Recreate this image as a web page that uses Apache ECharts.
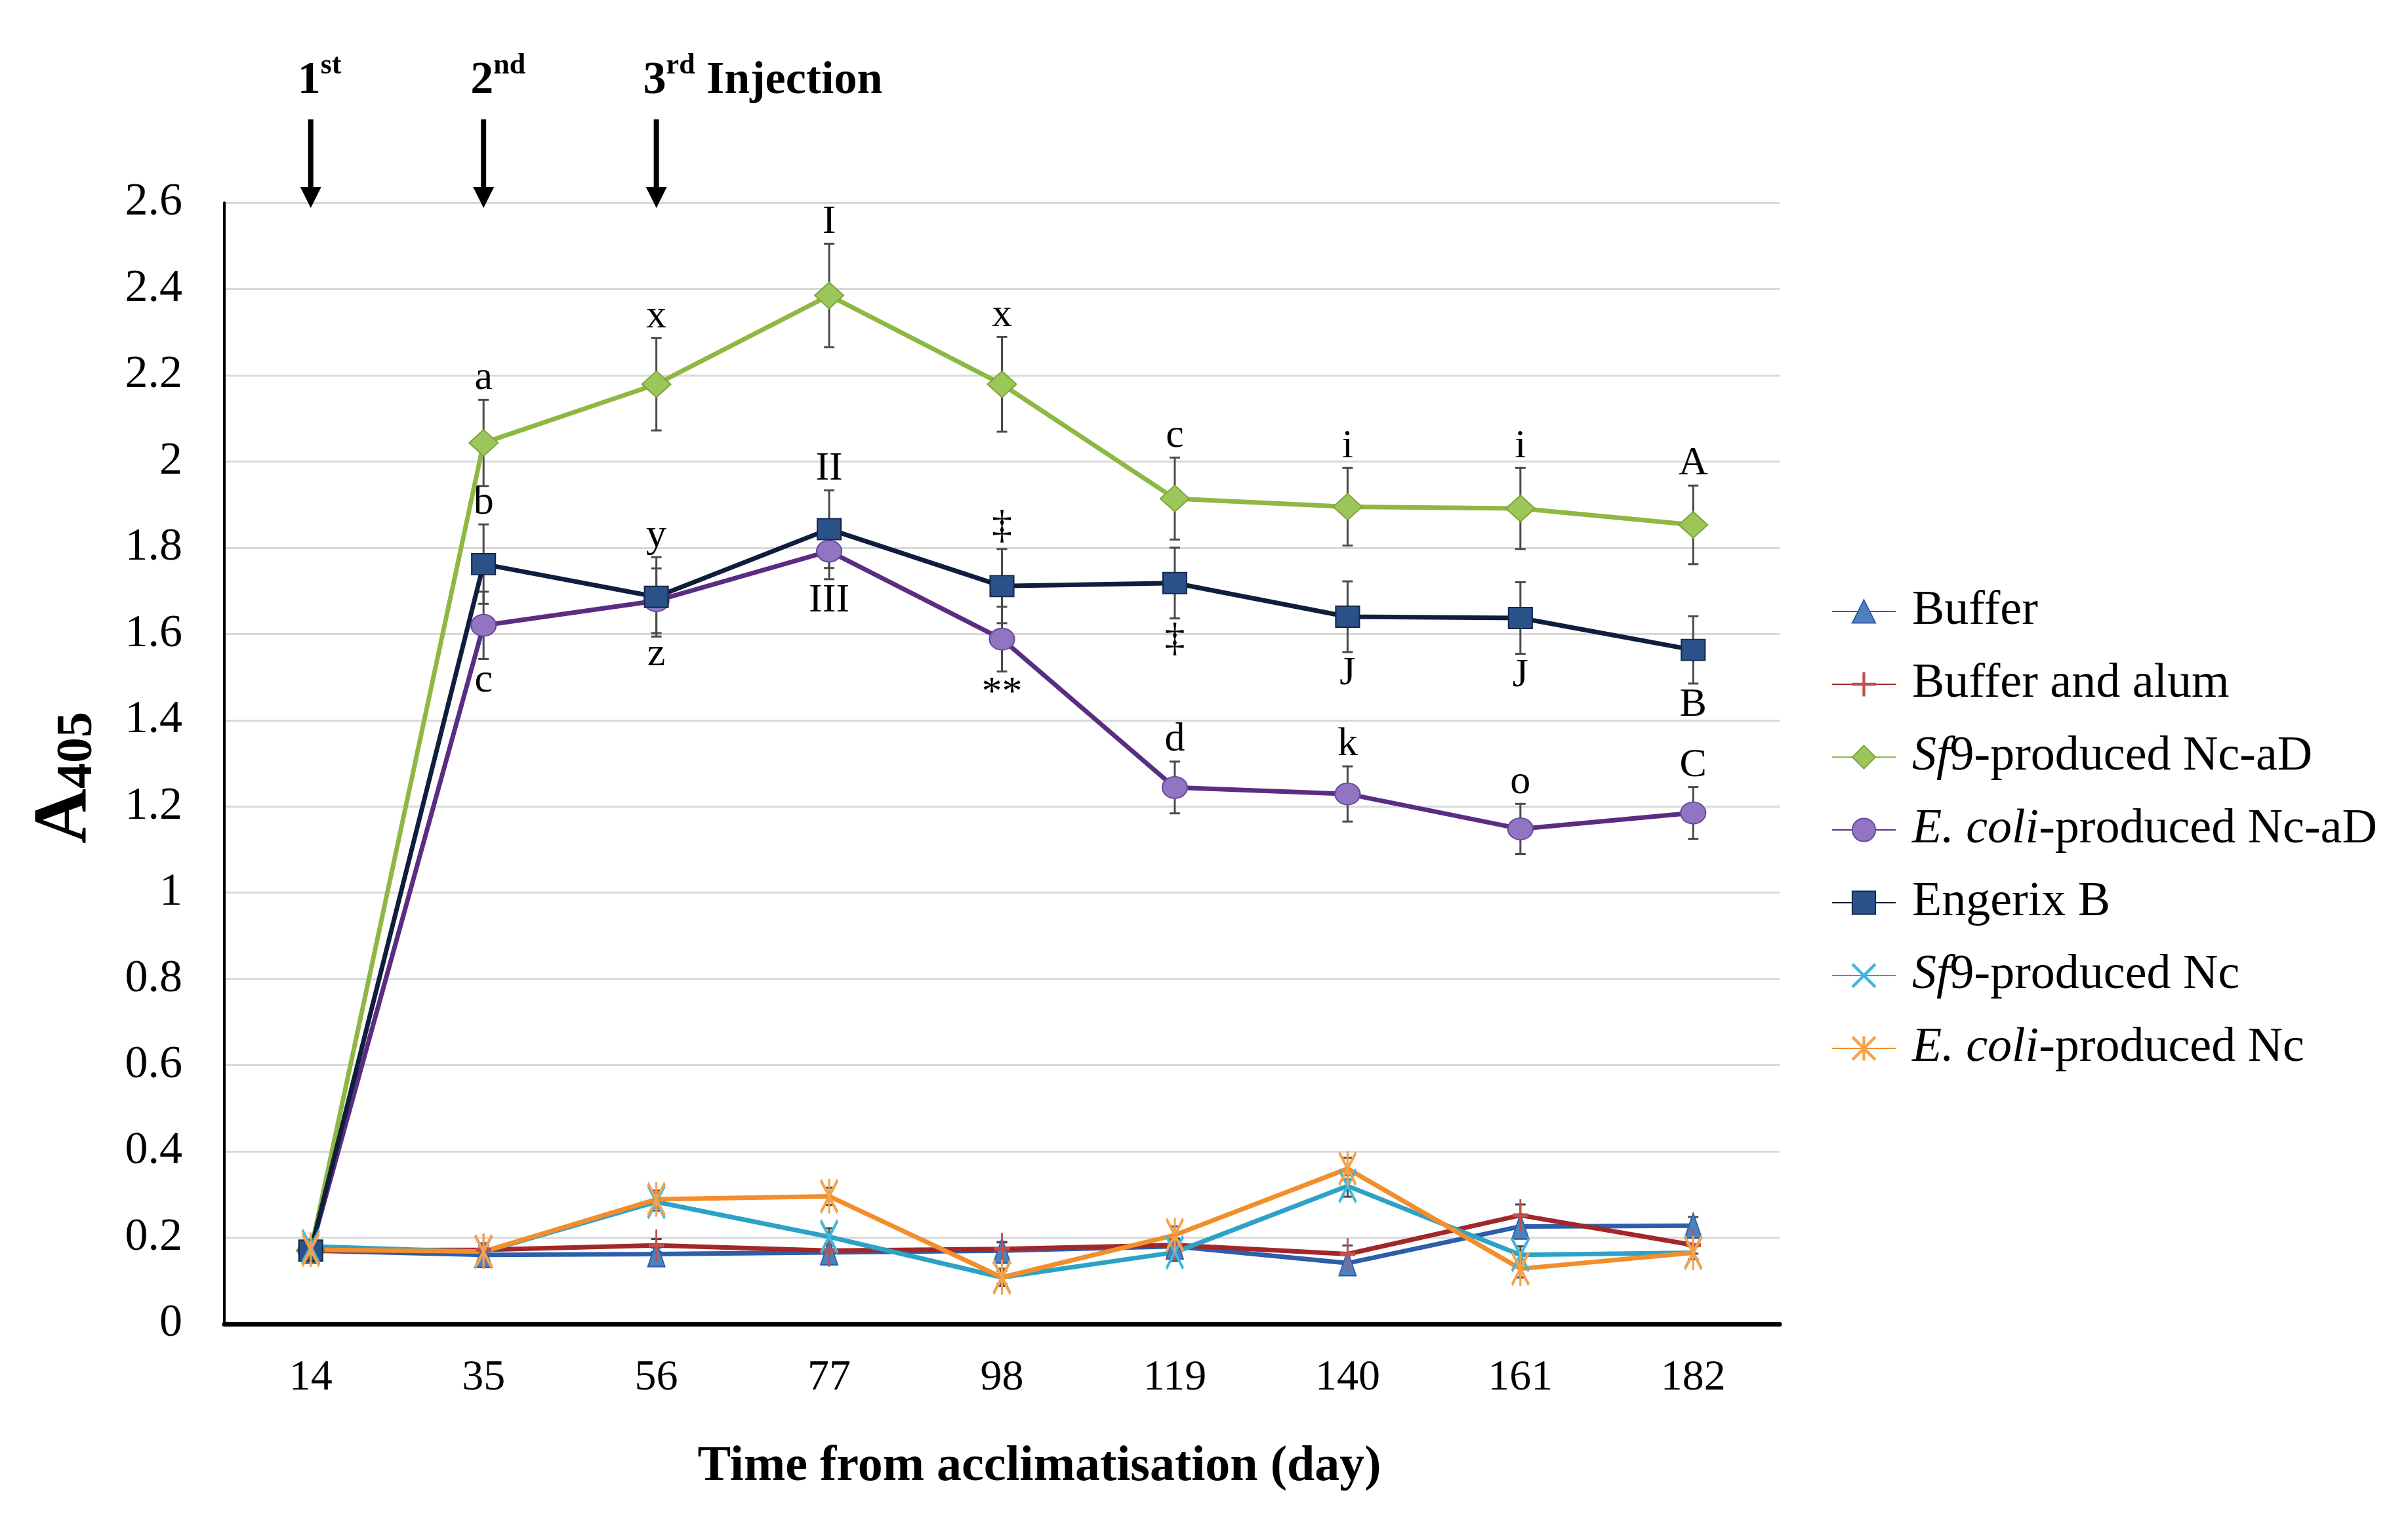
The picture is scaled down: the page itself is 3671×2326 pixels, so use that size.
<!DOCTYPE html>
<html><head><meta charset="utf-8">
<script src="https://cdn.jsdelivr.net/npm/echarts@6/dist/echarts.min.js"></script>
<style>html,body{margin:0;padding:0;background:#fff}#c{width:3671px;height:2326px}</style>
</head><body><div id="c"></div>
<script>
// ---- data ----
const xLabels = ['14','35','56','77','98','119','140','161','182'];
const yTicksMax = 2.6;
const yTickStep = 0.2;

const bufferVals     = [0.170, 0.160, 0.162, 0.166, 0.170, 0.180, 0.141, 0.226, 0.228];
const bufferAlumVals = [0.170, 0.172, 0.182, 0.170, 0.174, 0.183, 0.162, 0.252, 0.183];
const sf9NcaDVals    = [0.170, 2.043, 2.179, 2.385, 2.179, 1.914, 1.895, 1.891, 1.853];
const ecoliNcaDVals  = [0.170, 1.620, 1.677, 1.792, 1.588, 1.244, 1.229, 1.148, 1.185];
const engerixVals    = [0.170, 1.762, 1.686, 1.843, 1.711, 1.718, 1.640, 1.637, 1.563];
const sf9NcVals      = [0.180, 0.167, 0.283, 0.202, 0.108, 0.166, 0.320, 0.160, 0.165];
const ecoliNcVals    = [0.172, 0.168, 0.289, 0.296, 0.108, 0.206, 0.360, 0.128, 0.165];

const bufferErr      = [0.010, 0.015, 0.015, 0.015, 0.020, 0.015, 0.020, 0.025, 0.020];
const bufferAlumErr  = [0.010, 0.015, 0.015, 0.015, 0.015, 0.015, 0.020, 0.025, 0.020];
const sf9NcaDErr     = [0.010, 0.100, 0.107, 0.120, 0.110, 0.095, 0.090, 0.094, 0.091];
const ecoliNcaDErr   = [0.010, 0.078, 0.075, 0.065, 0.075, 0.060, 0.064, 0.058, 0.060];
const engerixErr     = [0.010, 0.092, 0.092, 0.090, 0.086, 0.082, 0.082, 0.083, 0.078];
const sf9NcErr       = [0.010, 0.015, 0.020, 0.020, 0.015, 0.020, 0.025, 0.020, 0.015];
const ecoliNcErr     = [0.010, 0.015, 0.020, 0.020, 0.020, 0.020, 0.025, 0.020, 0.015];

const sf9NcaDTop     = ['', 'a', 'x', 'I', 'x', 'c', 'i', 'i', 'A'];
const engerixTop     = ['', 'b', 'y', 'II', '‡', '', '', '', ''];
const engerixBottom  = ['', '', '', '', '', '‡', 'J', 'J', 'B'];
const ecoliNcaDBottom= ['', 'c', 'z', 'III', '**', '', '', '', ''];
const ecoliNcaDTop   = ['', '', '', '', '', 'd', 'k', 'o', 'C'];

const injectionDays  = ['14', '35', '56'];
const injectionTexts = ['{b|1}{s|st}', '{b|2}{s|nd}', '{b|3}{s|rd}{b| Injection}'];

const seriesNames = ['Buffer', 'Buffer and alum', 'Sf9-produced Nc-aD', 'E. coli-produced Nc-aD',
                     'Engerix B', 'Sf9-produced Nc', 'E. coli-produced Nc'];

// ---- styling ----
const FONT = "'Liberation Serif', 'Times New Roman', serif";
const PLUS = 'path://M-1.3,-20L1.3,-20L1.3,20L-1.3,20Z M-20,-1.3L20,-1.3L20,1.3L-20,1.3Z';
const XMARK = 'path://M-20,-18L-18,-20L20,18L18,20Z M18,-20L20,-18L-18,20L-20,18Z';
const STAR = 'path://M-20,-18L-18,-20L20,18L18,20Z M18,-20L20,-18L-18,20L-20,18Z M-1.3,-20L1.3,-20L1.3,20L-1.3,20Z';

function lineSeries(name, data, symbol, size, lineColor, fill, border) {
  return {
    type: 'line', name, data, symbol, symbolSize: size,
    lineStyle: { width: 7, color: lineColor },
    itemStyle: { color: fill, borderColor: border, borderWidth: 2 },
    z: 3, emphasis: { disabled: true }, silent: true
  };
}

function errSeries(vals, errs, top, bottom) {
  return {
    type: 'custom', silent: true, z: 2, clip: false,
    data: vals.map((v, i) => [i, v, errs[i]]),
    encode: { x: 0, y: 1 },
    renderItem(params, api) {
      const i = api.value(0), v = api.value(1), e = api.value(2);
      const t = api.coord([i, v + e]), b = api.coord([i, v - e]);
      const cw = 8, st = { stroke: '#4a4a4a', lineWidth: 3 };
      const children = [
        { type: 'line', shape: { x1: t[0], y1: t[1], x2: b[0], y2: b[1] }, style: st },
        { type: 'line', shape: { x1: t[0] - cw, y1: t[1], x2: t[0] + cw, y2: t[1] }, style: st },
        { type: 'line', shape: { x1: b[0] - cw, y1: b[1], x2: b[0] + cw, y2: b[1] }, style: st }
      ];
      const k = params.dataIndex;
      if (top && top[k]) children.push({ type: 'text', style: {
        text: top[k], x: t[0], y: t[1] - 2, align: 'center', verticalAlign: 'bottom',
        font: '62px ' + FONT, fill: '#000' } });
      if (bottom && bottom[k]) children.push({ type: 'text', style: {
        text: bottom[k], x: b[0], y: b[1] + 2, align: 'center', verticalAlign: 'top',
        font: '62px ' + FONT, fill: '#000' } });
      return { type: 'group', children };
    }
  };
}

const injectionSeries = {
  type: 'custom', silent: true, z: 5, clip: false,
  data: injectionDays.map(d => [xLabels.indexOf(d), yTicksMax]),
  encode: { x: 0, y: 1 },
  renderItem(params, api) {
    const p = api.coord([api.value(0), api.value(1)]);
    const k = params.dataIndex;
    const tip = p[1] + 8, topY = p[1] - 127, headH = 32, headW = 16;
    return { type: 'group', children: [
      { type: 'rect', shape: { x: p[0] - 4, y: topY, width: 8, height: tip - headH - topY + 2 }, style: { fill: '#000' } },
      { type: 'polygon', shape: { points: [[p[0] - headW, tip - headH], [p[0] + headW, tip - headH], [p[0], tip]] }, style: { fill: '#000' } },
      { type: 'text', style: {
          text: injectionTexts[k], x: p[0] - 20, y: p[1] - 150, align: 'left', verticalAlign: 'bottom',
          rich: {
            b: { fontSize: 70, fontWeight: 'bold', fontFamily: FONT, fill: '#000', lineHeight: 80, verticalAlign: 'bottom' },
            s: { fontSize: 44, fontWeight: 'bold', fontFamily: FONT, fill: '#000', lineHeight: 50, verticalAlign: 'top' }
          } } }
    ] };
  }
};

const chart = echarts.init(document.getElementById('c'));
chart.setOption({
  animation: false,
  backgroundColor: '#fff',
  grid: { left: 342, right: 958, top: 309, bottom: 308, outerBoundsMode: 'none' },
  legend: {
    orient: 'vertical', left: 2787, top: 890,
    itemWidth: 97, itemHeight: 44, itemGap: 37, selectedMode: false,
    data: seriesNames,
    formatter: n => {
      if (n.startsWith('Sf9')) return '{i|Sf}{n|' + n.slice(2) + '}';
      if (n.startsWith('E. coli')) return '{i|E. coli}{n|' + n.slice(7) + '}';
      return '{n|' + n + '}';
    },
    textStyle: {
      fontSize: 74, fontFamily: FONT, color: '#000', lineHeight: 74, padding: [0, 0, 0, 20],
      rich: {
        i: { fontSize: 74, fontFamily: FONT, fontStyle: 'italic', color: '#000', lineHeight: 74 },
        n: { fontSize: 74, fontFamily: FONT, color: '#000', lineHeight: 74 }
      }
    }
  },
  xAxis: {
    type: 'category', data: xLabels, boundaryGap: true,
    name: 'Time from acclimatisation (day)', nameLocation: 'middle', nameGap: 180,
    nameTextStyle: { fontSize: 76, fontWeight: 'bold', fontFamily: FONT, color: '#000', padding: [0, 0, 0, 114] },
    axisLine: { lineStyle: { color: '#000', width: 7 } },
    axisTick: { alignWithLabel: true, length: 18, lineStyle: { color: '#000', width: 3 } },
    axisLabel: { fontSize: 66, fontFamily: FONT, color: '#000', margin: 50 },
    splitLine: { show: false }
  },
  yAxis: {
    type: 'value', min: 0, max: yTicksMax, interval: yTickStep,
    name: '{a|A}{b|405}', nameLocation: 'middle', nameGap: 167,
    nameTextStyle: {
      padding: [0, 44, 0, 0],
      rich: {
        a: { fontSize: 116, fontWeight: 'bold', fontFamily: FONT, color: '#000', lineHeight: 116, verticalAlign: 'top', padding: [0, 0, 22, 0] },
        b: { fontSize: 78, fontWeight: 'bold', fontFamily: FONT, color: '#000', lineHeight: 78, verticalAlign: 'bottom' }
      }
    },
    axisLine: { show: true, lineStyle: { color: '#000', width: 4 } },
    axisTick: { show: false },
    axisLabel: { fontSize: 70, fontFamily: FONT, color: '#000', margin: 64 },
    splitLine: { lineStyle: { color: '#D9D9D9', width: 3 } }
  },
  series: [
    injectionSeries,
    errSeries(bufferVals, bufferErr),
    errSeries(bufferAlumVals, bufferAlumErr),
    errSeries(sf9NcaDVals, sf9NcaDErr, sf9NcaDTop, null),
    errSeries(ecoliNcaDVals, ecoliNcaDErr, ecoliNcaDTop, ecoliNcaDBottom),
    errSeries(engerixVals, engerixErr, engerixTop, engerixBottom),
    errSeries(sf9NcVals, sf9NcErr),
    errSeries(ecoliNcVals, ecoliNcErr),
    lineSeries(seriesNames[0], bufferVals, 'triangle', [26, 38], '#2E5EAA', '#4F81BD', '#2E5EAA'),
    lineSeries(seriesNames[1], bufferAlumVals, PLUS, [22, 46], '#A32628', '#C0504D', '#C0504D'),
    lineSeries(seriesNames[2], sf9NcaDVals, 'diamond', [44, 40], '#8DB843', '#9BC75A', '#7FA33A'),
    lineSeries(seriesNames[3], ecoliNcaDVals, 'circle', [38, 33], '#5A2D82', '#9275C2', '#6A4A9A'),
    lineSeries(seriesNames[4], engerixVals, 'rect', [36, 32], '#0F1E3D', '#2A5288', '#14284C'),
    lineSeries(seriesNames[5], sf9NcVals, XMARK, [26, 50], '#2CA3C6', '#40B8DA', '#40B8DA'),
    lineSeries(seriesNames[6], ecoliNcVals, STAR, [26, 50], '#F28E2B', '#F7A24A', '#F7A24A')
  ]
});
</script></body></html>
